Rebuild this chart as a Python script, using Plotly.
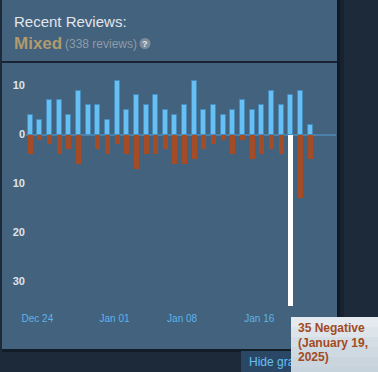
import pandas as pd
import plotly.graph_objects as go

# ---------------- data ----------------
dates = pd.date_range("2024-12-23", "2025-01-21", freq="D")
positive = [4, 3, 7, 7, 4, 9, 6, 6, 3, 11, 5, 8, 6, 8, 5, 4, 6, 11, 5, 6, 4, 5, 7, 5, 6, 9, 6, 8, 9, 2]
negative = [4, 1, 2, 4, 3, 6, 0, 3, 4, 2, 4, 7, 4, 4, 3, 6, 6, 5, 3, 2, 1, 4, 1, 5, 4, 3, 4, 35, 13, 5]
x_tick_dates = ["2024-12-24", "2025-01-01", "2025-01-08", "2025-01-16"]
x_tick_text = ["Dec 24", "Jan 01", "Jan 08", "Jan 16"]
y_tick_vals = [10, 0, -10, -20, -30]
y_tick_text = ["10", "0", "10", "20", "30"]
rating = "Mixed"
review_count = 338
highlight_date = "2025-01-19"

# ---------------- geometry / style ----------------
W, H = 378, 372
PX_PER_DAY = 9.65
PLOT_L, PLOT_R = 26, 336
PLOT_T, PLOT_B = 66, 311
FIRST_BAR_PX = 27.7

POS_COLOR = "#66c0f4"
NEG_COLOR = "#a34c25"
PANEL = "#42627e"
BG = "#1c2a3a"


def xp(px):
    # page pixel -> paper (plot-area relative) coordinate
    return (px - PLOT_L) / (PLOT_R - PLOT_L)


def yp(py):
    return (PLOT_B - py) / (PLOT_B - PLOT_T)


day_ms = 86400000
t0 = dates[0] - pd.Timedelta(milliseconds=(FIRST_BAR_PX - PLOT_L) / PX_PER_DAY * day_ms)
t1 = t0 + pd.Timedelta(milliseconds=(PLOT_R - PLOT_L) / PX_PER_DAY * day_ms)
bar_w = 5 / PX_PER_DAY * day_ms

hl = pd.Timestamp(highlight_date)
neg_colors = ["#ffffff" if d == hl else NEG_COLOR for d in dates]
neg_vals = [-v for v in negative]
hl_idx = list(dates).index(hl)

fig = go.Figure()
fig.add_bar(x=dates, y=positive, width=bar_w, offset=0,
            marker=dict(color=POS_COLOR, line=dict(color="rgba(70,140,190,0.9)", width=1)),
            hoverinfo="skip")
fig.add_bar(x=dates, y=neg_vals, width=bar_w, offset=0,
            marker=dict(color=neg_colors, line=dict(width=0)),
            hoverinfo="skip")

shapes = [
    # panel
    dict(type="rect", xref="paper", yref="paper", x0=xp(2), x1=xp(337), y0=yp(349), y1=yp(0),
         fillcolor=PANEL, line=dict(width=0), layer="below"),
    # panel shadow
    dict(type="rect", xref="paper", yref="paper", x0=xp(337), x1=xp(340), y0=yp(351), y1=yp(0),
         fillcolor="rgba(0,0,0,0.35)", line=dict(width=0), layer="below"),
    dict(type="rect", xref="paper", yref="paper", x0=xp(340), x1=xp(344), y0=yp(352), y1=yp(0),
         fillcolor="rgba(0,0,0,0.15)", line=dict(width=0), layer="below"),
    dict(type="rect", xref="paper", yref="paper", x0=xp(2), x1=xp(337), y0=yp(352), y1=yp(349),
         fillcolor="rgba(0,0,0,0.3)", line=dict(width=0), layer="below"),
    # separator line
    dict(type="line", xref="paper", yref="paper", x0=xp(2), x1=xp(337), y0=yp(62), y1=yp(62),
         line=dict(color="#0b1118", width=1.5), layer="below"),
    # "Hide graph" button box
    dict(type="rect", xref="paper", yref="paper", x0=xp(241), x1=xp(330), y0=yp(375), y1=yp(351),
         fillcolor="#2a4865", line=dict(width=0), layer="below"),
    # help icon
    dict(type="circle", xref="paper", yref="paper", x0=xp(139.5), x1=xp(150.5), y0=yp(49), y1=yp(38),
         fillcolor="#7d8c9a", line=dict(width=0), layer="above"),
]

annotations = [
    dict(text="Recent Reviews:", x=xp(11.5), y=yp(21.5), xref="paper", yref="paper",
         xanchor="left", yanchor="middle", showarrow=False,
         font=dict(family="Arial", size=15, color="#e2e6ea")),
    dict(text=f"<b>{rating}</b>", x=xp(11.5), y=yp(43.5), xref="paper", yref="paper",
         xanchor="left", yanchor="middle", showarrow=False,
         font=dict(family="Arial", size=17, color="#b19a6e")),
    dict(text=f"({review_count} reviews)", x=xp(63), y=yp(43.5), xref="paper", yref="paper",
         xanchor="left", yanchor="middle", showarrow=False,
         font=dict(family="Arial", size=12, color="#8f9ba6")),
    dict(text="<b>?</b>", x=xp(145), y=yp(43.5), xref="paper", yref="paper",
         xanchor="center", yanchor="middle", showarrow=False,
         font=dict(family="Arial", size=9, color="#dfe5ea")),
    dict(text="Hide graph", x=xp(247), y=yp(361.5), xref="paper", yref="paper",
         xanchor="left", yanchor="middle", showarrow=False,
         font=dict(family="Arial", size=12, color=POS_COLOR)),
]

# tooltip background (vertical gradient via bands)
band_cols = ["#e4eaef", "#dde4ea", "#d6dee5", "#cfd9e1", "#cad5de", "#c6d2dc"]
for i, c in enumerate(band_cols):
    annotations.append(dict(text=" ", x=xp(291), y=yp(317 + i * 10), xref="paper", yref="paper",
                            xanchor="left", yanchor="top", showarrow=False,
                            width=100, height=10, borderpad=0, borderwidth=0, bgcolor=c,
                            font=dict(size=6)))

tip_lines = [f"{negative[hl_idx]} Negative",
             f"({hl.strftime('%B')} {hl.day},",
             f"{hl.year})"]
for i, line in enumerate(tip_lines):
    annotations.append(dict(text=f"<b>{line}</b>", x=xp(296), y=yp(328 + i * 14.5),
                            xref="paper", yref="paper", xanchor="left", yanchor="middle",
                            showarrow=False, font=dict(family="Arial", size=12, color="#a24a22")))

fig.update_layout(
    width=W, height=H,
    margin=dict(l=PLOT_L, r=W - PLOT_R, t=PLOT_T, b=H - PLOT_B, pad=0),
    paper_bgcolor=BG, plot_bgcolor="rgba(0,0,0,0)",
    barmode="overlay", bargap=0, showlegend=False,
    shapes=shapes, annotations=annotations,
    xaxis=dict(type="date", range=[t0, t1], showgrid=False, zeroline=False, showline=False,
               ticks="", tickvals=x_tick_dates, ticktext=x_tick_text,
               tickfont=dict(family="Arial", size=10, color="#5fb3ea")),
    yaxis=dict(range=[-36, 14], showgrid=False, showline=False, ticks="",
               zeroline=True, zerolinecolor="#4b80a8", zerolinewidth=2,
               tickvals=y_tick_vals, ticktext=y_tick_text,
               tickfont=dict(family="Arial", size=11, color="#e0e4e8", weight="bold")),
)

fig.write_html("out.html", config={"displayModeBar": False},
               post_script="document.body.style.margin='0';document.body.style.padding='0';"
                           "document.body.style.overflow='hidden';")
